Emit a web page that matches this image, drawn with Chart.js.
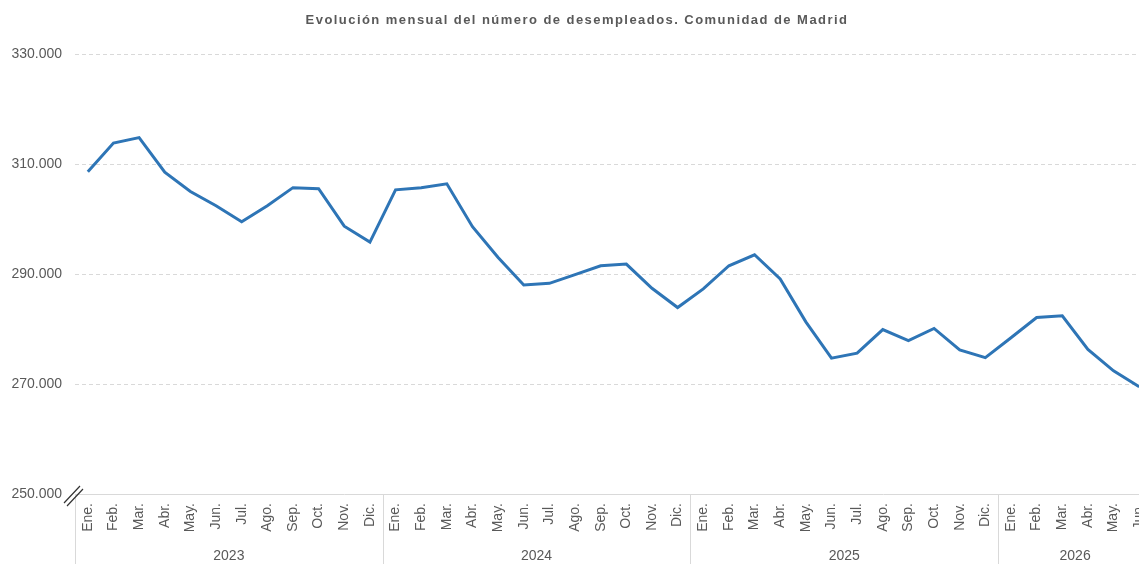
<!DOCTYPE html>
<html>
<head>
<meta charset="utf-8">
<script src="https://cdn.jsdelivr.net/npm/chart.js@4"></script>
<style>
  html, body { margin: 0; padding: 0; background: #fff; overflow: hidden; }
  #wrap { width: 1165px; height: 564px; }
</style>
</head>
<body>
<div id="wrap"><canvas id="myChart" width="1165" height="564"></canvas></div>
<script>
const titleText = 'Evolución mensual del número de desempleados. Comunidad de Madrid';
const months = ['Ene.', 'Feb.', 'Mar.', 'Abr.', 'May.', 'Jun.', 'Jul.', 'Ago.', 'Sep.', 'Oct.', 'Nov.', 'Dic.'];
const years = ['2023', '2024', '2025', '2026'];

// parados registrados, Comunidad de Madrid
const paro2023 = [308600, 313800, 314800, 308500, 305000, 302400, 299500, 302400, 305700, 305500, 298700, 295800];
const paro2024 = [305300, 305700, 306400, 298600, 293000, 288000, 288300, 289900, 291500, 291800, 287400, 283900];
const paro2025 = [287300, 291500, 293500, 289100, 281300, 274700, 275600, 279900, 277900, 280100, 276200, 274800];
const paro2026 = [278400, 282100, 282400, 276300, 272400, 269500];

const yTicks = [250000, 270000, 290000, 310000, 330000];

const series = [paro2023, paro2024, paro2025, paro2026];
const labels = [];
const values = [];
series.forEach((arr) => {
  arr.forEach((v, j) => {
    labels.push(months[j]);
    values.push(v);
  });
});

const fmt = (v) => String(v).replace(/\B(?=(\d{3})+(?!\d))/g, '.');

Chart.defaults.font.family = "'Liberation Sans', Arial, sans-serif";
Chart.defaults.color = '#595959';

// titulo espaciado, etiquetas de año, separadores y marca de corte del eje
const extras = {
  id: 'extras',
  afterDraw(chart) {
    const { ctx, chartArea } = chart;
    const x = chart.scales.x;
    const step = x.getPixelForValue(1) - x.getPixelForValue(0);
    ctx.save();

    ctx.fillStyle = '#595959';
    ctx.font = "bold 13px 'Liberation Sans', Arial, sans-serif";
    ctx.letterSpacing = '1.45px';
    ctx.textAlign = 'center';
    ctx.textBaseline = 'middle';
    ctx.fillText(titleText, 577, 20);
    ctx.letterSpacing = '0px';

    ctx.strokeStyle = '#d9d9d9';
    ctx.lineWidth = 1;
    let idx = 0;
    series.forEach((arr, i) => {
      const start = x.getPixelForValue(idx) - step / 2;
      const end = Math.min(start + step * 12, chartArea.right);
      ctx.beginPath();
      ctx.moveTo(Math.round(start) + 0.5, chartArea.bottom);
      ctx.lineTo(Math.round(start) + 0.5, chart.height);
      ctx.stroke();
      ctx.fillStyle = '#595959';
      ctx.font = "14px 'Liberation Sans', Arial, sans-serif";
      ctx.fillText(years[i], (start + end) / 2, 556);
      idx += arr.length;
    });

    const l = chartArea.left, b = chartArea.bottom;
    ctx.strokeStyle = '#333';
    ctx.lineWidth = 1.2;
    ctx.beginPath();
    ctx.moveTo(l - 11, b + 9);
    ctx.lineTo(l + 5, b - 8);
    ctx.moveTo(l - 8, b + 12);
    ctx.lineTo(l + 8, b - 5);
    ctx.stroke();
    ctx.restore();
  }
};

const ctx = document.getElementById('myChart').getContext('2d');
const myChart = new Chart(ctx, {
  type: 'line',
  data: {
    labels,
    datasets: [{
      data: values,
      borderColor: '#2e75b6',
      borderWidth: 3,
      pointRadius: 0,
      tension: 0,
      fill: false,
    }],
  },
  options: {
    responsive: false,
    animation: false,
    layout: { padding: { top: 54, right: 0 } },
    plugins: {
      legend: { display: false },
      tooltip: { enabled: false },
    },
    scales: {
      x: {
        offset: true,
        grid: { display: false, drawTicks: false, offset: true },
        border: { display: true, color: '#d9d9d9', width: 1 },
        ticks: {
          autoSkip: false,
          minRotation: 90,
          maxRotation: 90,
          padding: 9,
          color: '#595959',
          font: { size: 14 },
        },
        afterFit(scale) { scale.height = 70; },
      },
      y: {
        min: 250000,
        max: 330000,
        afterBuildTicks(scale) { scale.ticks = yTicks.map(v => ({ value: v })); },
        grid: {
          drawTicks: false,
          color: (c) => (c.tick && c.tick.value === 250000 ? 'rgba(0,0,0,0)' : '#d9d9d9'),
        },
        border: { display: false, dash: [4, 3] },
        ticks: {
          padding: 13,
          color: '#595959',
          font: { size: 14 },
          callback: (v) => fmt(v),
        },
        afterFit(scale) { scale.width = 75; },
      },
    },
  },
  plugins: [extras],
});
</script>
</body>
</html>
